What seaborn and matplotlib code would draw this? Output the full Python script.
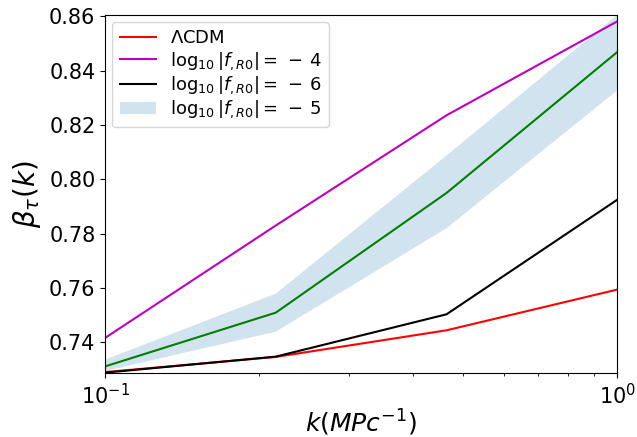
import numpy as np
import pandas as pd
import matplotlib
matplotlib.use('Agg')
import matplotlib.pyplot as plt
import matplotlib.ticker as mticker
import seaborn as sns

# wavenumbers (log spaced) and beta_T(k) for each model
k = [0.1, 0.2154, 0.4642, 1.0]
lcdm = [0.7290, 0.7346, 0.7444, 0.7594]
fr4 = [0.7416, 0.7830, 0.8236, 0.8582]
fr6 = [0.7288, 0.7347, 0.7503, 0.7925]
fr5 = [0.7311, 0.7509, 0.7950, 0.8469]
fr5_lo = [0.7294, 0.7439, 0.7820, 0.8328]
fr5_hi = [0.7336, 0.7579, 0.8088, 0.8606]


def main():
    fig, ax = plt.subplots(figsize=(6.37, 4.37), dpi=100)
    fig.subplots_adjust(left=0.165, right=0.969, top=0.966, bottom=0.146)

    df = pd.DataFrame({'k': k, 'lcdm': lcdm, 'fr4': fr4, 'fr6': fr6, 'fr5': fr5})

    sns.lineplot(data=df, x='k', y='lcdm', color='r', label=r'$\Lambda$CDM', ax=ax)
    sns.lineplot(data=df, x='k', y='fr4', color='m', label=r'$\log_{10}|f_{,R0}| = \,-\,4$', ax=ax)
    sns.lineplot(data=df, x='k', y='fr6', color='k', label=r'$\log_{10}|f_{,R0}| = \,-\,6$', ax=ax)
    ax.fill_between(k, fr5_lo, fr5_hi, alpha=0.2, linewidth=0,
                    label=r'$\log_{10}|f_{,R0}| = \,-\,5$')
    sns.lineplot(data=df, x='k', y='fr5', color='g', ax=ax)

    ax.set_xscale('log')
    ax.set_xlim(0.1, 1.0)
    ax.xaxis.set_minor_formatter(mticker.NullFormatter())
    ax.set_ylim(0.7286, 0.8606)
    ax.set_yticks([0.74, 0.76, 0.78, 0.80, 0.82, 0.84, 0.86])
    ax.tick_params(labelsize=15)
    ax.set_xlabel(r'$k(MPc^{-1})$', fontsize=18, labelpad=0)
    ax.set_ylabel(r'$\beta_{\tau}(k)$', fontsize=20)
    ax.legend(loc='upper left', fontsize=13, labelspacing=0.15, borderaxespad=0.4)

    fig.savefig('out.png', dpi=100)


if __name__ == '__main__':
    main()
